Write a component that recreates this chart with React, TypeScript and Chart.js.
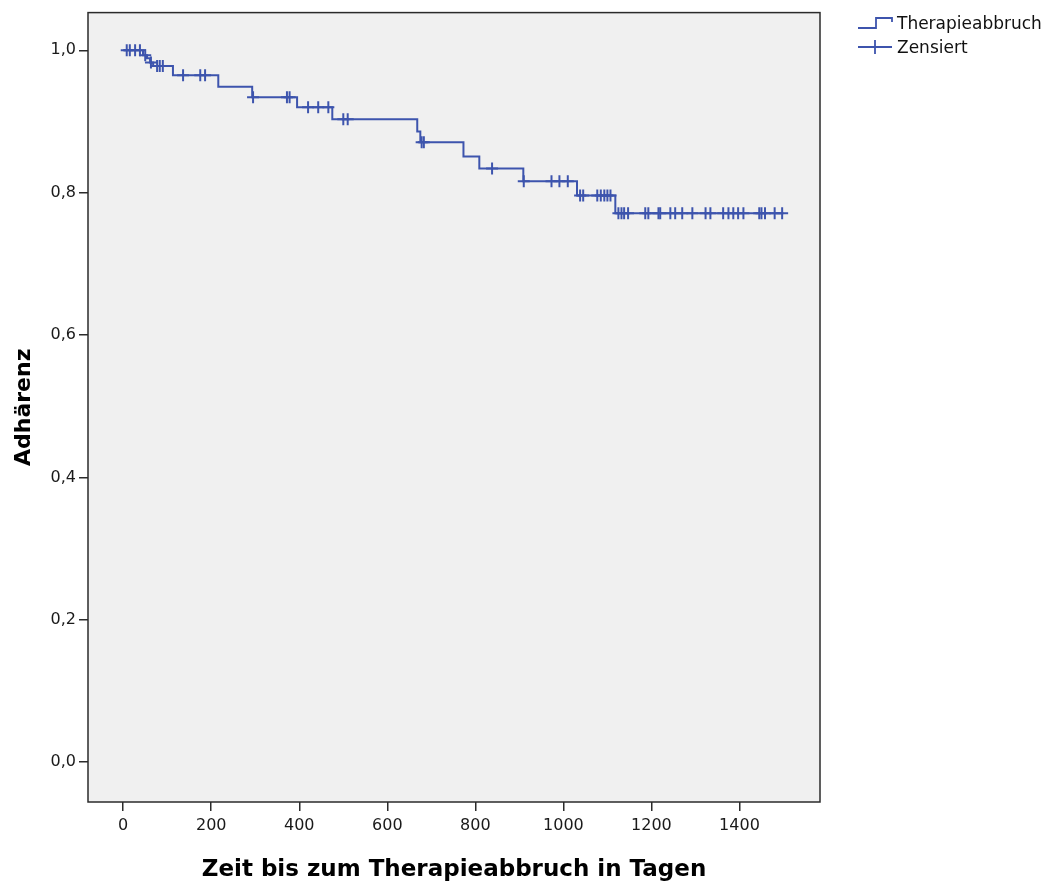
import React, { useEffect, useRef } from 'react';
import { Chart, registerables } from 'chart.js';

Chart.register(...registerables);

// Kaplan-Meier step points: day of event and survival after it
const eventDays = [0, 45, 54, 61, 68, 113, 216, 293, 395, 475, 668, 675, 773, 809, 909, 1031, 1118, 1500];
const survival = [1.0, 0.993, 0.989, 0.983, 0.978, 0.965, 0.949, 0.934, 0.92, 0.903, 0.886, 0.871, 0.851, 0.834, 0.816, 0.796, 0.771, 0.771];

// Censored observations (days)
const censoredDays = [
  8, 15, 27, 38, 50, 63, 77, 83, 90, 136, 175, 186, 295, 372, 378, 420, 443, 466, 500, 510,
  678, 683, 838, 910, 973, 991, 1010, 1038, 1045, 1077, 1085, 1093, 1100, 1107,
  1125, 1132, 1138, 1147, 1186, 1193, 1216, 1220, 1243, 1254, 1270, 1293, 1323, 1334,
  1363, 1375, 1386, 1397, 1409, 1445, 1450, 1458, 1480, 1497,
];

const xTicks = [0, 200, 400, 600, 800, 1000, 1200, 1400];
const yTicks = [0, 0.2, 0.4, 0.6, 0.8, 1.0];

const seriesLabels = ['Therapieabbruch', 'Zensiert'];
const xTitle = 'Zeit bis zum Therapieabbruch in Tagen';
const yTitle = 'Adhärenz';

const LINE = '#3d54ad';

function survivalAt(day: number): number {
  let s = survival[0];
  for (let i = 0; i < eventDays.length; i++) {
    if (eventDays[i] <= day) s = survival[i];
  }
  return s;
}

const bgPlugin = {
  id: 'plotBg',
  beforeDraw(chart: any) {
    const { ctx, chartArea } = chart;
    ctx.save();
    ctx.fillStyle = '#f0f0f0';
    ctx.fillRect(chartArea.left, chartArea.top, chartArea.right - chartArea.left, chartArea.bottom - chartArea.top);
    ctx.restore();
  },
  afterDraw(chart: any) {
    const { ctx, chartArea } = chart;
    ctx.save();
    ctx.strokeStyle = '#2b2b2b';
    ctx.lineWidth = 1.5;
    ctx.strokeRect(chartArea.left, chartArea.top, chartArea.right - chartArea.left, chartArea.bottom - chartArea.top);
    // legend
    ctx.strokeStyle = LINE;
    ctx.lineWidth = 1.8;
    ctx.beginPath();
    ctx.moveTo(858, 28);
    ctx.lineTo(876, 28);
    ctx.lineTo(876, 18);
    ctx.lineTo(892, 18);
    ctx.lineTo(892, 22);
    ctx.stroke();
    ctx.beginPath();
    ctx.moveTo(858, 47);
    ctx.lineTo(892, 47);
    ctx.moveTo(875, 40);
    ctx.lineTo(875, 54);
    ctx.stroke();
    ctx.fillStyle = '#111';
    ctx.font = '17px "DejaVu Sans"';
    ctx.textBaseline = 'middle';
    ctx.textAlign = 'left';
    ctx.fillText(seriesLabels[0], 897, 25);
    ctx.fillText(seriesLabels[1], 897, 49);
    ctx.restore();
  },
};

export default function App() {
  const ref = useRef<HTMLCanvasElement>(null);
  useEffect(() => {
    document.body.style.margin = '0';
    const canvas = ref.current!;
    const chart = new Chart(canvas, {
      type: 'line',
      data: {
        datasets: [
          {
            label: seriesLabels[0],
            data: eventDays.map((d, i) => ({ x: d, y: survival[i] })),
            borderColor: LINE,
            borderWidth: 2,
            stepped: 'before',
            pointRadius: 0,
            fill: false,
          },
          {
            label: seriesLabels[1],
            data: censoredDays.map((d) => ({ x: d, y: survivalAt(d) })),
            showLine: false,
            pointStyle: 'cross',
            pointRadius: 6,
            pointBorderWidth: 2,
            borderColor: LINE,
            backgroundColor: LINE,
            pointBorderColor: LINE,
          },
        ],
      },
      options: {
        animation: false,
        responsive: false,
        devicePixelRatio: 1,
        layout: { padding: { top: 12, right: 234, left: 0, bottom: 0 } },
        plugins: { legend: { display: false }, tooltip: { enabled: false } },
        scales: {
          x: {
            type: 'linear',
            min: -80,
            max: 1583,
            afterBuildTicks: (s: any) => {
              s.ticks = xTicks.map((v) => ({ value: v }));
            },
            afterFit: (s: any) => {
              s.height = 87;
            },
            grid: { drawOnChartArea: false, drawTicks: true, tickLength: 9, color: '#2b2b2b', lineWidth: 1.5 },
            border: { display: false },
            ticks: {
              font: { family: 'DejaVu Sans', size: 16 },
              color: '#1a1a1a',
              padding: 5,
              maxRotation: 0,
              callback: (v: any) => String(v),
            },
            title: {
              display: true,
              text: xTitle,
              font: { family: 'DejaVu Sans', size: 23, weight: 'bold' },
              color: '#000',
              padding: { top: 0, bottom: 5 },
            },
          },
          y: {
            type: 'linear',
            min: -0.056,
            max: 1.053,
            afterBuildTicks: (s: any) => {
              s.ticks = yTicks.map((v) => ({ value: v }));
            },
            afterFit: (s: any) => {
              s.width = 88;
            },
            grid: { drawOnChartArea: false, drawTicks: true, tickLength: 9, color: '#2b2b2b', lineWidth: 1.5 },
            border: { display: false },
            ticks: {
              font: { family: 'DejaVu Sans', size: 16 },
              color: '#1a1a1a',
              padding: 3,
              callback: (v: any) => Number(v).toFixed(1).replace('.', ','),
            },
            title: {
              display: true,
              text: yTitle,
              font: { family: 'DejaVu Sans', size: 22, weight: 'bold' },
              color: '#000',
              padding: { top: 11, bottom: 0 },
            },
          },
        },
      },
      plugins: [bgPlugin],
    });
    return () => chart.destroy();
  }, []);
  return (
    <div style={{ width: 1054, height: 889 }}>
      <canvas ref={ref} width={1054} height={889} style={{ display: 'block' }} />
    </div>
  );
}
